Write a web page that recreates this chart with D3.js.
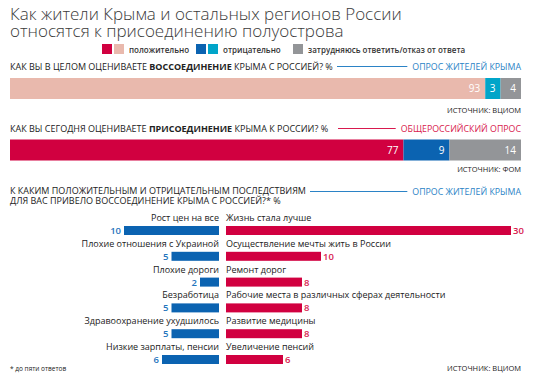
<!DOCTYPE html>
<html><head><meta charset="utf-8">
<script src="https://cdn.jsdelivr.net/npm/d3@7"></script>
<style>
body{margin:0;background:#fff;}
svg{display:block;font-family:"Open Sans",sans-serif;}
</style></head><body>
<svg id="c" width="534" height="380"></svg>
<script>
const titleLines = ["Как жители Крыма и остальных регионов России", "относятся к присоединению полуострова"];
const legendItems = [
  {label:"положительно", colors:["#d10040","#e9b9ad"]},
  {label:"отрицательно", colors:["#0b63b1","#00a5c9"]},
  {label:"затрудняюсь ответить/отказ от ответа", colors:["#939598"]}
];
const segKeys = ["Положительно","Отрицательно","Затрудняюсь"];
const q1Values = [93, 3, 4];
const q1Colors = ["#e9b9ad","#00a5c9","#939598"];
const q2Values = [77, 9, 14];
const q2Colors = ["#d10040","#0b63b1","#939598"];
const negLabels = ["Рост цен на все","Плохие отношения с Украиной","Плохие дороги","Безработица","Здравоохранение ухудшилось","Низкие зарплаты, пенсии"];
const negValues = [10, 5, 2, 5, 5, 6];
const posLabels = ["Жизнь стала лучше","Осуществление мечты жить в России","Ремонт дорог","Рабочие места в различных сферах деятельности","Развитие медицины","Увеличение пенсий"];
const posValues = [30, 10, 8, 8, 8, 6];

const svg = d3.select("#c");
const L = 10, R = 521;
const RED = "#d10040", BLUE = "#0b63b1", TBLUE = "#2b83c6", TRED = "#d8194e", TXT = "#222";

// title
svg.append("g").selectAll("text").data(titleLines).join("text")
  .attr("x", L).attr("y", (d,i)=>20 + i*17)
  .attr("font-size", 17).attr("font-weight", 300).attr("fill", "#3a3a3a")
  .text(d=>d);

// legend
const lg = svg.append("g");
const legX = [102, 196, 293];
legendItems.forEach((it, i) => {
  let x = legX[i];
  it.colors.forEach((c, j) => {
    lg.append("rect").attr("x", x + j*12).attr("y", 44).attr("width", 10).attr("height", 10).attr("fill", c);
  });
  lg.append("text").attr("x", x + it.colors.length*12 + 3).attr("y", 52.5)
    .attr("font-size", 8).attr("font-weight", 600).attr("fill", "#333").text(it.label);
});

function rightTag(y, text, color, lineStart) {
  const t = svg.append("text").attr("x", R).attr("y", y).attr("text-anchor", "end")
    .attr("font-size", 8.8).attr("fill", color).text(text);
  const w = t.node().getComputedTextLength();
  svg.append("line").attr("x1", lineStart).attr("x2", R - w - 5).attr("y1", y - 3.5).attr("y2", y - 3.5)
    .attr("stroke", color).attr("stroke-width", 1);
}
function header(y, parts) {
  const t = svg.append("text").attr("x", L).attr("y", y).attr("font-size", 9).attr("fill", TXT);
  parts.forEach(p => t.append("tspan").attr("font-weight", p.b ? 700 : 400).text(p.t));
  return t;
}

const x = d3.scaleLinear().domain([0, 100]).range([L, R]);

function stackBar(values, colors, y0, h) {
  const data = values.map((v,i)=>({key:segKeys[i], v, c:colors[i]}));
  let acc = 0;
  data.forEach(d => { d.x0 = acc; acc += d.v; d.x1 = acc; });
  const g = svg.append("g");
  g.selectAll("rect").data(data).join("rect")
    .attr("x", d=>x(d.x0)).attr("width", d=>x(d.x1)-x(d.x0))
    .attr("y", y0).attr("height", h).attr("fill", d=>d.c);
  g.selectAll("text").data(data).join("text")
    .attr("x", d=>x(d.x1) - 5).attr("y", y0 + h/2 + 3.5)
    .attr("text-anchor", "end").attr("font-size", 10).attr("fill", "#fff")
    .text(d=>d.v);
}

// Q1
header(70, [{t:"КАК ВЫ В ЦЕЛОМ ОЦЕНИВАЕТЕ "},{t:"ВОССОЕДИНЕНИЕ",b:1},{t:" КРЫМА С РОССИЕЙ? %"}]);
rightTag(70, "ОПРОС ЖИТЕЛЕЙ КРЫМА", TBLUE, 337);
stackBar(q1Values, q1Colors, 78, 21);
svg.append("text").attr("x", R).attr("y", 113).attr("text-anchor","end").attr("font-size", 7.5).attr("fill", TXT).text("ИСТОЧНИК: ВЦИОМ");

// Q2
header(132, [{t:"КАК ВЫ СЕГОДНЯ ОЦЕНИВАЕТЕ "},{t:"ПРИСОЕДИНЕНИЕ",b:1},{t:" КРЫМА К РОССИИ? %"}]);
rightTag(132, "ОБЩЕРОССИЙСКИЙ ОПРОС", TRED, 338);
stackBar(q2Values, q2Colors, 139.5, 21);
svg.append("text").attr("x", R).attr("y", 172).attr("text-anchor","end").attr("font-size", 7.5).attr("fill", TXT).text("ИСТОЧНИК: ФОМ");

// Q3
svg.append("text").attr("x", L).attr("y", 194).attr("font-size", 9).attr("fill", TXT).text("К КАКИМ ПОЛОЖИТЕЛЬНЫМ И ОТРИЦАТЕЛЬНЫМ ПОСЛЕДСТВИЯМ");
svg.append("text").attr("x", L).attr("y", 204).attr("font-size", 9).attr("fill", TXT).text("ДЛЯ ВАС ПРИВЕЛО ВОССОЕДИНЕНИЕ КРЫМА С РОССИЕЙ?* %");
rightTag(195, "ОПРОС ЖИТЕЛЕЙ КРЫМА", TBLUE, 310);

// diverging bars
const xPos = d3.scaleLinear().domain([0, 30]).range([226, 511]);
const xNeg = d3.scaleLinear().domain([0, 30]).range([219, 219 - 285]);
const y = d3.scaleBand().domain(d3.range(negLabels.length)).range([226, 226 + 6*25.8]).paddingInner(0).paddingOuter(0);
const bh = 9;
const rows = svg.append("g");
negLabels.forEach((lab, i) => {
  const yt = y(i);
  rows.append("text").attr("x", 219).attr("y", yt - 5).attr("text-anchor","end")
    .attr("font-size", 9).attr("fill", TXT).text(lab);
  rows.append("text").attr("x", 226).attr("y", yt - 5)
    .attr("font-size", 9).attr("fill", TXT).text(posLabels[i]);
  rows.append("rect").attr("x", xNeg(negValues[i])).attr("width", xNeg(0) - xNeg(negValues[i]))
    .attr("y", yt).attr("height", bh).attr("fill", BLUE);
  rows.append("rect").attr("x", xPos(0)).attr("width", xPos(posValues[i]) - xPos(0))
    .attr("y", yt).attr("height", bh).attr("fill", RED);
  rows.append("text").attr("x", xNeg(negValues[i]) - 3).attr("y", yt + 8)
    .attr("text-anchor","end").attr("font-size", 9.5).attr("font-weight", 600).attr("fill", "#1f75bd").text(negValues[i]);
  rows.append("text").attr("x", xPos(posValues[i]) + 2).attr("y", yt + 8)
    .attr("font-size", 9.5).attr("font-weight", 600).attr("fill", TRED).text(posValues[i]);
});

svg.append("text").attr("x", L).attr("y", 371).attr("font-size", 6.5).attr("fill", TXT).text("* до пяти ответов");
svg.append("text").attr("x", R).attr("y", 371).attr("text-anchor","end").attr("font-size", 7.5).attr("fill", TXT).text("ИСТОЧНИК: ВЦИОМ");
</script></body></html>
